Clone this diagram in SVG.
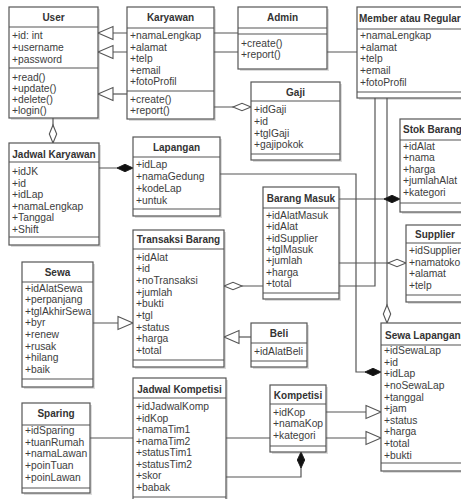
<svg xmlns="http://www.w3.org/2000/svg" width="461" height="499" viewBox="0 0 461 499">
<style>
  .bg { fill: #ffffff; }
  .sh { fill: #dcdcdc; }
  .box { fill: #ffffff; stroke: #555555; stroke-width: 1.2; }
  .sep { stroke: #555555; stroke-width: 1.2; }
  .t { font-family: "Liberation Sans", Arial, sans-serif; font-size: 10px; font-weight: bold; fill: #333333; text-anchor: middle; }
  .ts { text-anchor: start; }
  .a { font-family: "Liberation Sans", Arial, sans-serif; font-size: 10.3px; fill: #3d3d3d; }
  .c { fill: none; stroke: #555555; stroke-width: 1.2; }
  .inh { marker-end: url(#tri); }
  .agg { marker-end: url(#odia); }
  .com { marker-end: url(#fdia); }
</style>
<defs>
  <marker id="tri" markerUnits="userSpaceOnUse" markerWidth="17" markerHeight="15" refX="15.5" refY="7" orient="auto" overflow="visible">
    <path d="M0.5,0.5 L15.5,7 L0.5,13.5 Z" fill="#ffffff" stroke="#555555" stroke-width="1.1"/>
  </marker>
  <marker id="odia" markerUnits="userSpaceOnUse" markerWidth="20" markerHeight="10" refX="18" refY="4.5" orient="auto" overflow="visible">
    <path d="M0,4.5 L9,0.8 L18,4.5 L9,8.2 Z" fill="#ffffff" stroke="#555555" stroke-width="1.1"/>
  </marker>
  <marker id="fdia" markerUnits="userSpaceOnUse" markerWidth="20" markerHeight="10" refX="16" refY="4.5" orient="auto" overflow="visible">
    <path d="M0,4.5 L8,0.8 L16,4.5 L8,8.2 Z" fill="#111111" stroke="#222222" stroke-width="1"/>
  </marker>
</defs>
<rect class="bg" x="0" y="0" width="461" height="499"/>

<g id="shadows">
  <rect class="sh" x="11" y="9" width="89" height="111"/>
  <rect class="sh" x="129" y="9" width="87" height="112"/>
  <rect class="sh" x="240" y="9" width="89" height="62"/>
  <rect class="sh" x="359" y="9" width="113" height="91"/>
  <rect class="sh" x="253" y="84" width="89" height="78"/>
  <rect class="sh" x="11" y="145" width="90" height="102"/>
  <rect class="sh" x="135" y="139" width="87" height="79"/>
  <rect class="sh" x="135" y="232" width="91" height="137"/>
  <rect class="sh" x="265" y="189" width="76" height="112"/>
  <rect class="sh" x="402" y="121" width="70" height="93"/>
  <rect class="sh" x="408" y="227" width="64" height="77"/>
  <rect class="sh" x="24" y="264" width="71" height="125"/>
  <rect class="sh" x="253" y="325" width="56" height="44"/>
  <rect class="sh" x="383" y="325" width="89" height="148"/>
  <rect class="sh" x="135" y="380" width="93" height="125"/>
  <rect class="sh" x="24" y="405" width="68" height="90"/>
  <rect class="sh" x="272" y="387" width="56" height="67"/>
</g>

<g id="connectors">
  <path class="c inh" d="M238,33 H98"/>
  <path class="c inh" d="M357,52 H98"/>
  <path class="c inh" d="M127,94 H98"/>
  <path class="c agg" d="M214,107 H251"/>
  <path class="c agg" d="M53,118 V143"/>
  <path class="c com" d="M99,168 H133"/>
  <path class="c com" d="M220,174 H356 V372 H381"/>
  <path class="c agg" d="M375,98 V286 H224"/>
  <path class="c agg" d="M387,98 V323"/>
  <path class="c com" d="M339,199 H400"/>
  <path class="c agg" d="M339,263 H406"/>
  <path class="c inh" d="M93,323 H133"/>
  <path class="c inh" d="M251,337 H224"/>
  <path class="c inh" d="M326,412 H381"/>
  <path class="c inh" d="M90,438 H381"/>
  <path class="c com" d="M226,477 H301 V452"/>
</g>

<g id="user">
  <rect class="box" x="9" y="7" width="89" height="111"/>
  <line class="sep" x1="9" y1="27" x2="98" y2="27"/>
  <line class="sep" x1="9" y1="68" x2="98" y2="68"/>
  <text class="t" x="53.5" y="21">User</text>
  <text class="a" x="12" y="39">+id: int</text>
  <text class="a" x="12" y="51">+username</text>
  <text class="a" x="12" y="62.5">+password</text>
  <text class="a" x="12" y="80.5">+read()</text>
  <text class="a" x="12" y="92">+update()</text>
  <text class="a" x="12" y="103">+delete()</text>
  <text class="a" x="12" y="114">+login()</text>
</g>

<g id="karyawan">
  <rect class="box" x="127" y="7" width="87" height="112"/>
  <line class="sep" x1="127" y1="28" x2="214" y2="28"/>
  <line class="sep" x1="127" y1="91" x2="214" y2="91"/>
  <text class="t" x="170.5" y="21">Karyawan</text>
  <text class="a" x="130" y="39">+namaLengkap</text>
  <text class="a" x="130" y="51">+alamat</text>
  <text class="a" x="130" y="62">+telp</text>
  <text class="a" x="130" y="73.5">+email</text>
  <text class="a" x="130" y="84.5">+fotoProfil</text>
  <text class="a" x="130" y="102.5">+create()</text>
  <text class="a" x="130" y="114">+report()</text>
</g>

<g id="admin">
  <rect class="box" x="238" y="7" width="89" height="62"/>
  <line class="sep" x1="238" y1="28" x2="327" y2="28"/>
  <line class="sep" x1="238" y1="34" x2="327" y2="34"/>
  <text class="t" x="282.5" y="21">Admin</text>
  <text class="a" x="241" y="46.5">+create()</text>
  <text class="a" x="241" y="58">+report()</text>
</g>

<g id="member">
  <rect class="box" x="357" y="7" width="113" height="91"/>
  <line class="sep" x1="357" y1="29" x2="470" y2="29"/>
  <line class="sep" x1="357" y1="92" x2="470" y2="92"/>
  <text class="t ts" x="359" y="21.5">Member atau Regular</text>
  <text class="a" x="360" y="38.5">+namaLengkap</text>
  <text class="a" x="360" y="50.5">+alamat</text>
  <text class="a" x="360" y="62">+telp</text>
  <text class="a" x="360" y="74">+email</text>
  <text class="a" x="360" y="85.5">+fotoProfil</text>
</g>

<g id="gaji">
  <rect class="box" x="251" y="82" width="89" height="78"/>
  <line class="sep" x1="251" y1="101" x2="340" y2="101"/>
  <line class="sep" x1="251" y1="154" x2="340" y2="154"/>
  <text class="t" x="295.5" y="95.5">Gaji</text>
  <text class="a" x="254" y="112.5">+idGaji</text>
  <text class="a" x="254" y="124.5">+id</text>
  <text class="a" x="254" y="136.5">+tglGaji</text>
  <text class="a" x="254" y="147.5">+gajipokok</text>
</g>

<g id="jadwal-karyawan">
  <rect class="box" x="9" y="143" width="90" height="102"/>
  <line class="sep" x1="9" y1="162" x2="99" y2="162"/>
  <line class="sep" x1="9" y1="237" x2="99" y2="237"/>
  <text class="t" x="54" y="157.5">Jadwal Karyawan</text>
  <text class="a" x="12" y="175">+idJK</text>
  <text class="a" x="12" y="186.5">+id</text>
  <text class="a" x="12" y="197.5">+idLap</text>
  <text class="a" x="12" y="209.5">+namaLengkap</text>
  <text class="a" x="12" y="221">+Tanggal</text>
  <text class="a" x="12" y="232.5">+Shift</text>
</g>

<g id="lapangan">
  <rect class="box" x="133" y="137" width="87" height="79"/>
  <line class="sep" x1="133" y1="157" x2="220" y2="157"/>
  <line class="sep" x1="133" y1="209" x2="220" y2="209"/>
  <text class="t" x="176.5" y="151">Lapangan</text>
  <text class="a" x="136" y="167.5">+idLap</text>
  <text class="a" x="136" y="180">+namaGedung</text>
  <text class="a" x="136" y="191.5">+kodeLap</text>
  <text class="a" x="136" y="203.5">+untuk</text>
</g>

<g id="transaksi-barang">
  <rect class="box" x="133" y="230" width="91" height="137"/>
  <line class="sep" x1="133" y1="249" x2="224" y2="249"/>
  <line class="sep" x1="133" y1="360" x2="224" y2="360"/>
  <text class="t" x="178.5" y="243">Transaksi Barang</text>
  <text class="a" x="136" y="260.5">+idAlat</text>
  <text class="a" x="136" y="272.2">+id</text>
  <text class="a" x="136" y="283.9">+noTransaksi</text>
  <text class="a" x="136" y="295.6">+jumlah</text>
  <text class="a" x="136" y="307.3">+bukti</text>
  <text class="a" x="136" y="319">+tgl</text>
  <text class="a" x="136" y="330.7">+status</text>
  <text class="a" x="136" y="342.4">+harga</text>
  <text class="a" x="136" y="354.1">+total</text>
</g>

<g id="barang-masuk">
  <rect class="box" x="263" y="187" width="76" height="112"/>
  <line class="sep" x1="263" y1="208" x2="339" y2="208"/>
  <line class="sep" x1="263" y1="293" x2="339" y2="293"/>
  <text class="t" x="301" y="202">Barang Masuk</text>
  <text class="a" x="266" y="218.8">+idAlatMasuk</text>
  <text class="a" x="266" y="230.2">+idAlat</text>
  <text class="a" x="266" y="241.5">+idSupplier</text>
  <text class="a" x="266" y="252.9">+tglMasuk</text>
  <text class="a" x="266" y="264.2">+jumlah</text>
  <text class="a" x="266" y="275.6">+harga</text>
  <text class="a" x="266" y="286.9">+total</text>
</g>

<g id="stok-barang">
  <rect class="box" x="400" y="119" width="70" height="93"/>
  <line class="sep" x1="400" y1="140" x2="470" y2="140"/>
  <line class="sep" x1="400" y1="203" x2="470" y2="203"/>
  <text class="t ts" x="403" y="133">Stok Barang</text>
  <text class="a" x="403" y="149.5">+idAlat</text>
  <text class="a" x="403" y="161">+nama</text>
  <text class="a" x="403" y="172.5">+harga</text>
  <text class="a" x="403" y="184">+jumlahAlat</text>
  <text class="a" x="403" y="195.5">+kategori</text>
</g>

<g id="supplier">
  <rect class="box" x="406" y="225" width="64" height="77"/>
  <line class="sep" x1="406" y1="243" x2="470" y2="243"/>
  <line class="sep" x1="406" y1="295" x2="470" y2="295"/>
  <text class="t ts" x="415" y="238">Supplier</text>
  <text class="a" x="409" y="254.2">+idSupplier</text>
  <text class="a" x="409" y="265.8">+namatoko</text>
  <text class="a" x="409" y="277.4">+alamat</text>
  <text class="a" x="409" y="289">+telp</text>
</g>

<g id="sewa">
  <rect class="box" x="22" y="262" width="71" height="125"/>
  <line class="sep" x1="22" y1="282" x2="93" y2="282"/>
  <line class="sep" x1="22" y1="379" x2="93" y2="379"/>
  <text class="t" x="57.5" y="275.5">Sewa</text>
  <text class="a" x="25" y="291.5">+idAlatSewa</text>
  <text class="a" x="25" y="303.1">+perpanjang</text>
  <text class="a" x="25" y="314.7">+tglAkhirSewa</text>
  <text class="a" x="25" y="326.3">+byr</text>
  <text class="a" x="25" y="337.9">+renew</text>
  <text class="a" x="25" y="349.5">+rusak</text>
  <text class="a" x="25" y="361.1">+hilang</text>
  <text class="a" x="25" y="372.7">+baik</text>
</g>

<g id="beli">
  <rect class="box" x="251" y="323" width="56" height="44"/>
  <line class="sep" x1="251" y1="343" x2="307" y2="343"/>
  <line class="sep" x1="251" y1="361" x2="307" y2="361"/>
  <text class="t" x="279" y="337">Beli</text>
  <text class="a" x="254" y="355">+idAlatBeli</text>
</g>

<g id="sewa-lapangan">
  <rect class="box" x="381" y="323" width="89" height="148"/>
  <line class="sep" x1="381" y1="345" x2="470" y2="345"/>
  <line class="sep" x1="381" y1="463" x2="470" y2="463"/>
  <text class="t ts" x="385" y="339">Sewa Lapangan</text>
  <text class="a" x="384" y="354.2">+idSewaLap</text>
  <text class="a" x="384" y="365.8">+id</text>
  <text class="a" x="384" y="377.4">+idLap</text>
  <text class="a" x="384" y="389">+noSewaLap</text>
  <text class="a" x="384" y="400.6">+tanggal</text>
  <text class="a" x="384" y="412.2">+jam</text>
  <text class="a" x="384" y="423.8">+status</text>
  <text class="a" x="384" y="435.4">+harga</text>
  <text class="a" x="384" y="447">+total</text>
  <text class="a" x="384" y="458.6">+bukti</text>
</g>

<g id="jadwal-kompetisi">
  <rect class="box" x="133" y="378" width="93" height="125"/>
  <line class="sep" x1="133" y1="398" x2="226" y2="398"/>
  <line class="sep" x1="133" y1="497" x2="226" y2="497"/>
  <text class="t" x="179.5" y="392.5">Jadwal Kompetisi</text>
  <text class="a" x="136" y="410.2">+idJadwalKomp</text>
  <text class="a" x="136" y="421.7">+idKop</text>
  <text class="a" x="136" y="433.2">+namaTim1</text>
  <text class="a" x="136" y="444.7">+namaTim2</text>
  <text class="a" x="136" y="456.2">+statusTim1</text>
  <text class="a" x="136" y="467.7">+statusTim2</text>
  <text class="a" x="136" y="479.2">+skor</text>
  <text class="a" x="136" y="490.7">+babak</text>
</g>

<g id="sparing">
  <rect class="box" x="22" y="403" width="68" height="90"/>
  <line class="sep" x1="22" y1="425" x2="90" y2="425"/>
  <line class="sep" x1="22" y1="488" x2="90" y2="488"/>
  <text class="t" x="56" y="417">Sparing</text>
  <text class="a" x="25" y="433.5">+idSparing</text>
  <text class="a" x="25" y="445.5">+tuanRumah</text>
  <text class="a" x="25" y="457.3">+namaLawan</text>
  <text class="a" x="25" y="469">+poinTuan</text>
  <text class="a" x="25" y="480.9">+poinLawan</text>
</g>

<g id="kompetisi">
  <rect class="box" x="270" y="385" width="56" height="67"/>
  <line class="sep" x1="270" y1="404" x2="326" y2="404"/>
  <line class="sep" x1="270" y1="446" x2="326" y2="446"/>
  <text class="t" x="298" y="398.5">Kompetisi</text>
  <text class="a" x="273" y="415.8">+idKop</text>
  <text class="a" x="273" y="427">+namaKop</text>
  <text class="a" x="273" y="438.5">+kategori</text>
</g>
</svg>
